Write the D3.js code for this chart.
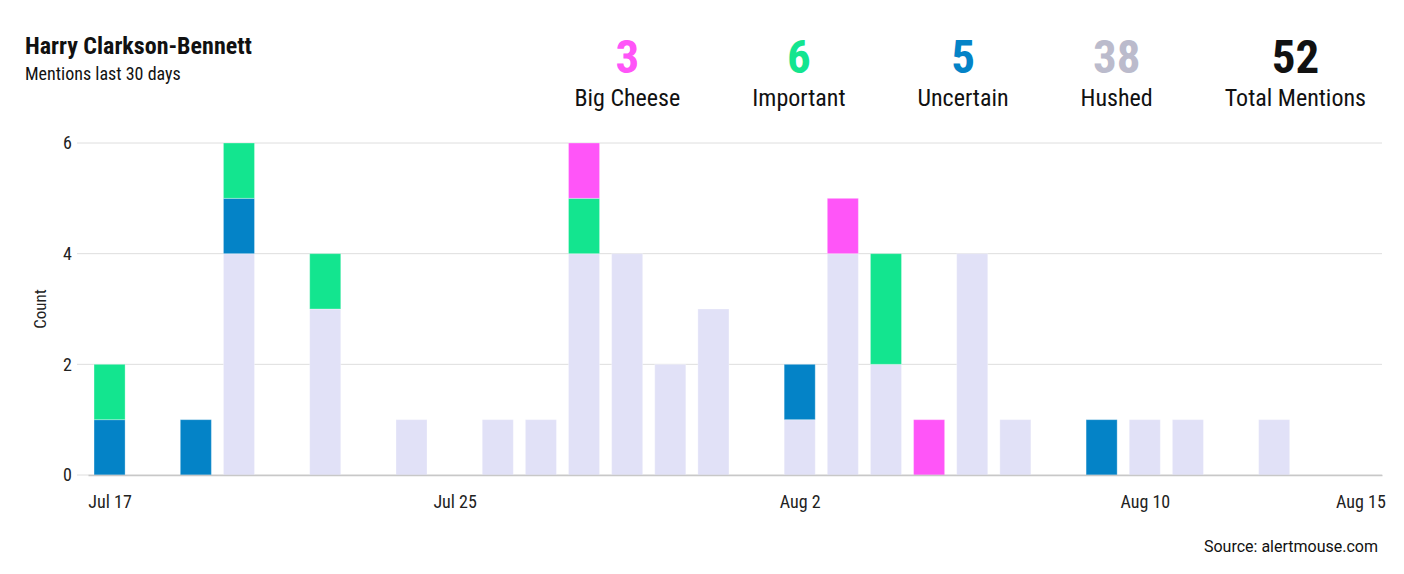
<!DOCTYPE html>
<html>
<head>
<meta charset="utf-8">
<script src="https://cdn.jsdelivr.net/npm/d3@7"></script>
<style>
  body { margin: 0; background: #fff; }
  #chart { width: 1404px; height: 574px; }
</style>
</head>
<body>
<div id="chart"></div>
<script>
//mentions per day, Jul 17 - Aug 15
var days = ["2023-07-17","2023-07-18","2023-07-19","2023-07-20","2023-07-21","2023-07-22",
  "2023-07-23","2023-07-24","2023-07-25","2023-07-26","2023-07-27","2023-07-28",
  "2023-07-29","2023-07-30","2023-07-31","2023-08-01","2023-08-02","2023-08-03",
  "2023-08-04","2023-08-05","2023-08-06","2023-08-07","2023-08-08","2023-08-09",
  "2023-08-10","2023-08-11","2023-08-12","2023-08-13","2023-08-14","2023-08-15"];
var hushed    = [0,0,0,4,0,3,0,1,0,1,1,4,4,2,3,0,1,4,2,0,4,1,0,0,1,1,0,1,0,0];
var uncertain = [1,0,1,1,0,0,0,0,0,0,0,0,0,0,0,0,1,0,0,0,0,0,0,1,0,0,0,0,0,0];
var important = [1,0,0,1,0,1,0,0,0,0,0,1,0,0,0,0,0,0,2,0,0,0,0,0,0,0,0,0,0,0];
var bigCheese = [0,0,0,0,0,0,0,0,0,0,0,1,0,0,0,0,0,1,0,1,0,0,0,0,0,0,0,0,0,0];

var seriesNames = ["Hushed", "Uncertain", "Important", "Big Cheese"]; //stack order, bottom first
var seriesColours = ["#e1e1f7", "#0483c7", "#13e58f", "#ff55f8"];
var numberColours = {"Big Cheese": "#ff55f8", "Important": "#13e58f", "Uncertain": "#0483c7", "Hushed": "#bbbbcc", "Total Mentions": "#111"};
var xTicks = ["2023-07-17", "2023-07-25", "2023-08-02", "2023-08-10", "2023-08-15"];
var yTicks = [0, 2, 4, 6];

var width = 1404, height = 574;
var margin = {top: 143, right: 22, bottom: 99, left: 88};
var font = "'Roboto Condensed', Roboto, sans-serif";
var parse = d3.utcParse("%Y-%m-%d");

//build rows for the stack
var rows = days.map(function (d, i) {
  return {
    date: parse(d),
    "Hushed": hushed[i],
    "Uncertain": uncertain[i],
    "Important": important[i],
    "Big Cheese": bigCheese[i]
  };
});
var stacked = d3.stack().keys(seriesNames)(rows);

var svg = d3.select("#chart").append("svg")
  .attr("width", width)
  .attr("height", height)
  .attr("viewBox", "0 0 " + width + " " + height)

//scales
var x = d3.scaleUtc()
  .domain([d3.utcHour.offset(parse(days[0]), -12), d3.utcHour.offset(parse(days[days.length - 1]), 12)])
  .range([margin.left, width - margin.right]);

var y = d3.scaleLinear()
  .domain([0, 6])
  .range([height - margin.bottom, margin.top]);

var dayWidth = x(parse(days[1])) - x(parse(days[0]));
var barWidth = dayWidth * 0.72;

//gridlines
svg.append("g")
  .attr("class", "grid")
  .selectAll("line")
  .data(yTicks)
  .enter()
  .append("line")
  .attr("x1", margin.left - 11)
  .attr("x2", width - margin.right)
  .attr("y1", function (d) { return y(d); })
  .attr("y2", function (d) { return y(d); })
  .attr("stroke", "#dedede")
  .attr("stroke-width", 1)

//y axis labels
var yAxis = d3.axisLeft(y)
  .tickValues(yTicks)
  .tickSize(0)
  .tickPadding(0)
  .tickFormat(d3.format("d"));

var gy = svg.append("g")
  .attr("class", "y axis")
  .attr("transform", "translate(" + (margin.left - 16) + ",0)")
  .call(yAxis)
gy.select(".domain").remove();
gy.selectAll("text")
  .style("font-family", font)
  .style("font-size", "18px")
  .style("fill", "#222")

svg.append("text")
  .attr("class", "y label")
  .attr("transform", "translate(46," + y(3) + ") rotate(-90)")
  .attr("text-anchor", "middle")
  .text("Count")
  .style("font-family", font)
  .style("font-size", "17px")
  .style("fill", "#222")

//bars
var layers = svg.append("g")
  .attr("class", "bars")
  .selectAll(".layer")
  .data(stacked)
  .enter()
  .append("g")
  .attr("class", "layer")
  .attr("fill", function (d, i) { return seriesColours[i]; })

layers.selectAll("rect")
  .data(function (d) { return d.filter(function (s) { return s[1] > s[0]; }); })
  .enter()
  .append("rect")
  .attr("x", function (d) { return x(d.data.date) - barWidth / 2; })
  .attr("width", barWidth)
  .attr("y", function (d) { return y(d[1]); })
  .attr("height", function (d) { return y(d[0]) - y(d[1]); })
  .attr("stroke", "#fff")
  .attr("stroke-opacity", 0.3)
  .attr("stroke-width", 1)

//x axis
var xAxis = d3.axisBottom(x)
  .tickValues(xTicks.map(parse))
  .tickSize(0)
  .tickPadding(20)
  .tickFormat(d3.utcFormat("%b %-d"));

var gx = svg.append("g")
  .attr("class", "x axis")
  .attr("transform", "translate(0," + y(0) + ")")
  .call(xAxis)
gx.select(".domain")
  .attr("stroke", "#c8c8c8")
  .attr("stroke-width", 1.5)
gx.selectAll("text")
  .style("font-family", font)
  .style("font-size", "18px")
  .style("fill", "#222")

//title
svg.append("text")
  .attr("class", "plot_title")
  .attr("x", 25)
  .attr("y", 54)
  .text("Harry Clarkson-Bennett")
  .style("font-family", font)
  .style("font-weight", "bold")
  .style("font-size", "24px")
  .style("fill", "#111")

svg.append("text")
  .attr("class", "subtitle")
  .attr("x", 25)
  .attr("y", 80)
  .text("Mentions last 30 days")
  .style("font-family", font)
  .style("font-size", "18px")
  .style("fill", "#111")

//summary counts, laid out from the right edge
var totals = [
  {name: "Big Cheese", value: d3.sum(bigCheese)},
  {name: "Important", value: d3.sum(important)},
  {name: "Uncertain", value: d3.sum(uncertain)},
  {name: "Hushed", value: d3.sum(hushed)}
];
totals.push({name: "Total Mentions", value: d3.sum(totals, function (d) { return d.value; })});

var summary = svg.append("g")
  .attr("class", "summary")

var items = summary.selectAll(".item")
  .data(totals)
  .enter()
  .append("g")
  .attr("class", "item")

items.append("text")
  .attr("class", "itemLabel")
  .attr("y", 106)
  .attr("text-anchor", "middle")
  .text(function (d) { return d.name; })
  .style("font-family", font)
  .style("font-size", "24px")
  .style("fill", "#111")

items.append("text")
  .attr("class", "itemValue")
  .attr("y", 73)
  .attr("text-anchor", "middle")
  .text(function (d) { return d.value; })
  .style("font-family", font)
  .style("font-weight", "bold")
  .style("font-size", "47px")
  .style("fill", function (d) { return numberColours[d.name]; })

var rightEdge = 1366, gap = 72;
var labelWidths = [];
items.selectAll(".itemLabel").each(function () { labelWidths.push(this.getComputedTextLength()); });
var cursor = rightEdge;
var centres = [];
for (var i = totals.length - 1; i >= 0; i--) {
  centres[i] = cursor - labelWidths[i] / 2;
  cursor -= labelWidths[i] + gap;
}
items.attr("transform", function (d, i) { return "translate(" + centres[i] + ",0)"; });

//source
svg.append("text")
  .attr("class", "source")
  .attr("x", 1378)
  .attr("y", 552)
  .attr("text-anchor", "end")
  .text("Source: alertmouse.com")
  .style("font-family", "Roboto, sans-serif")
  .style("font-size", "16px")
  .style("fill", "#111")
</script>
</body>
</html>
